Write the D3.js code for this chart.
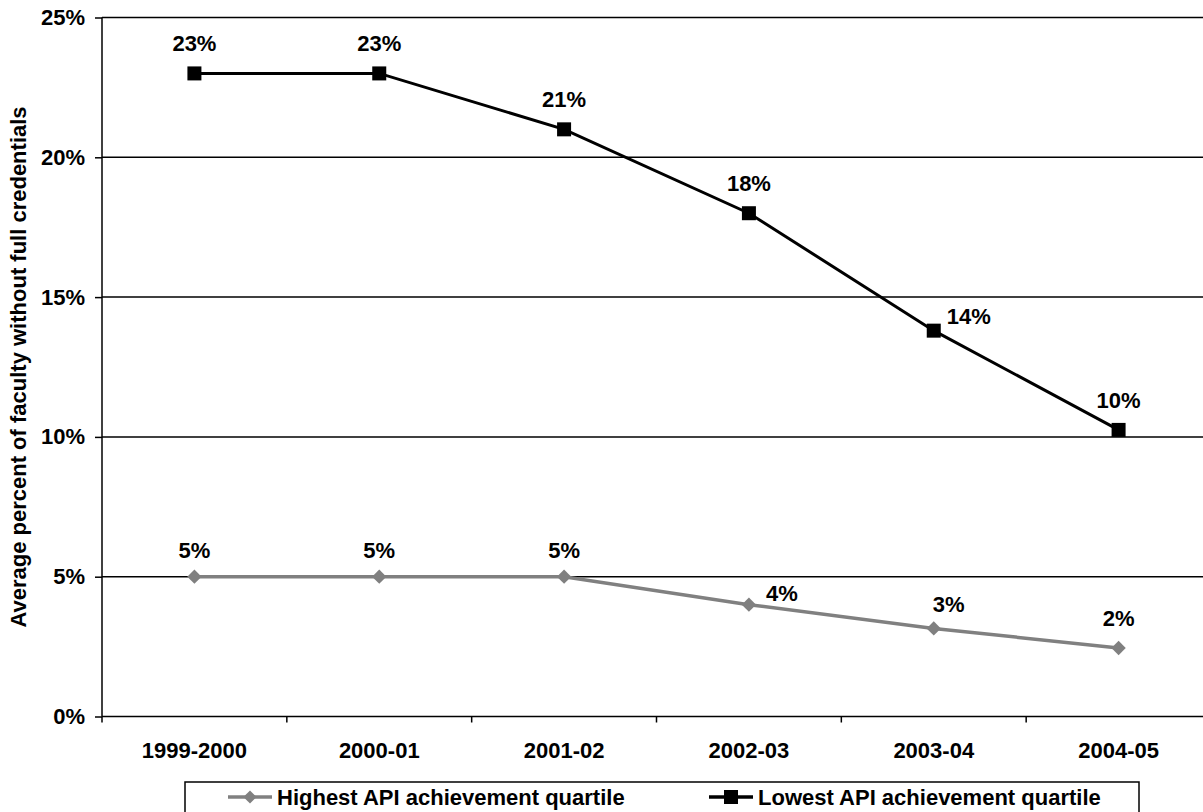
<!DOCTYPE html>
<html>
<head>
<meta charset="utf-8">
<script src="https://cdn.jsdelivr.net/npm/d3@7"></script>
<style>
  html, body { margin: 0; padding: 0; background: #fff; overflow: hidden; }
  svg { display: block; font-family: "Liberation Sans", Arial, sans-serif; font-weight: bold; }
</style>
</head>
<body>
<svg id="chart" width="1203" height="812"></svg>
<script>
// ---- Data ----
const categories = ["1999-2000", "2000-01", "2001-02", "2002-03", "2003-04", "2004-05"];
const highestValues = [5, 5, 5, 4.0, 3.15, 2.45];
const lowestValues = [23, 23, 21, 18, 13.8, 10.25];
const yTicks = [0, 5, 10, 15, 20, 25];
const seriesNames = ["Highest API achievement quartile", "Lowest API achievement quartile"];
const yTitle = "Average percent of faculty without full credentials";
// label offsets (styling): [dx, dy] relative to the point
const highestLabelOffsets = [[0, -19], [0, -19], [0, -19], [33, -4], [15, -16], [0, -22]];
const lowestLabelOffsets = [[0, -22], [0, -22], [0, -22], [0, -22], [35, -7], [0, -22]];

const svg = d3.select("#chart");
const pLeft = 102, pRight = 1211, pTop = 17.5, pBottom = 716.5;
const FS = 22;

const x = d3.scaleBand().domain(categories).range([pLeft, pRight]);
const y = d3.scaleLinear().domain([0, 25]).range([pBottom, pTop]);

// gridlines
svg.append("g").selectAll("line").data(yTicks.filter(d => d > 0)).join("line")
  .attr("x1", pLeft).attr("x2", pRight)
  .attr("y1", d => y(d)).attr("y2", d => y(d))
  .attr("stroke", "#000").attr("stroke-width", 1.5);

// y axis
const yAxis = d3.axisLeft(y).tickValues(yTicks).tickSize(7).tickPadding(10).tickFormat(d => d + "%");
const gy = svg.append("g").attr("transform", `translate(${pLeft},0)`).call(yAxis);
gy.select(".domain").attr("stroke", "#000").attr("stroke-width", 1.5).attr("d", `M0,${pTop}V${pBottom}`);
gy.selectAll(".tick line").attr("stroke", "#000").attr("stroke-width", 1.5);
gy.selectAll(".tick text").attr("font-size", FS).attr("font-weight", "bold")
  .attr("font-family", "Liberation Sans, Arial, sans-serif").attr("fill", "#000");

// x axis
const gx = svg.append("g").attr("transform", `translate(0,${pBottom})`);
gx.append("line").attr("x1", pLeft).attr("x2", pRight).attr("y1", 0).attr("y2", 0)
  .attr("stroke", "#000").attr("stroke-width", 1.5);
gx.selectAll("line.tk").data(categories).join("line").attr("class", "tk")
  .attr("x1", d => x(d)).attr("x2", d => x(d)).attr("y1", 0).attr("y2", 6)
  .attr("stroke", "#000").attr("stroke-width", 1.5);
gx.selectAll("text").data(categories).join("text")
  .attr("x", d => x(d) + x.bandwidth() / 2).attr("y", 41)
  .attr("text-anchor", "middle").attr("font-size", FS).attr("fill", "#000")
  .text(d => d);

// y title
svg.append("text")
  .attr("transform", `translate(26,${(pTop + pBottom) / 2}) rotate(-90)`)
  .attr("text-anchor", "middle").attr("font-size", 22).attr("fill", "#000")
  .text(yTitle);

const cx = d => x(d) + x.bandwidth() / 2;
const line = d3.line().x(d => cx(d.c)).y(d => y(d.v));

const hi = categories.map((c, i) => ({ c, v: highestValues[i], o: highestLabelOffsets[i] }));
const lo = categories.map((c, i) => ({ c, v: lowestValues[i], o: lowestLabelOffsets[i] }));

// Highest series
svg.append("path").datum(hi).attr("d", line).attr("fill", "none")
  .attr("stroke", "#808080").attr("stroke-width", 3.5);
svg.append("g").selectAll("path").data(hi).join("path")
  .attr("d", d3.symbol(d3.symbolDiamond2, 130))
  .attr("transform", d => `translate(${cx(d.c)},${y(d.v)})`)
  .attr("fill", "#808080");
svg.append("g").selectAll("text").data(hi).join("text")
  .attr("x", d => cx(d.c) + d.o[0]).attr("y", d => y(d.v) + d.o[1])
  .attr("text-anchor", "middle").attr("font-size", FS).attr("fill", "#000")
  .text(d => Math.round(d.v) + "%");

// Lowest series
svg.append("path").datum(lo).attr("d", line).attr("fill", "none")
  .attr("stroke", "#000").attr("stroke-width", 3);
svg.append("g").selectAll("rect").data(lo).join("rect")
  .attr("x", d => cx(d.c) - 7).attr("y", d => y(d.v) - 7)
  .attr("width", 14).attr("height", 14).attr("fill", "#000");
svg.append("g").selectAll("text").data(lo).join("text")
  .attr("x", d => cx(d.c) + d.o[0]).attr("y", d => y(d.v) + d.o[1])
  .attr("text-anchor", "middle").attr("font-size", FS).attr("fill", "#000")
  .text(d => Math.round(d.v) + "%");

// Legend
const lg = svg.append("g");
lg.append("rect").attr("x", 185).attr("y", 782).attr("width", 954).attr("height", 45)
  .attr("fill", "#fff").attr("stroke", "#000").attr("stroke-width", 1.5);
const legendItems = [
  { name: seriesNames[0], x0: 228, color: "#808080", shape: "diamond" },
  { name: seriesNames[1], x0: 709, color: "#000", shape: "square" }
];
legendItems.forEach(it => {
  const ly = 797;
  lg.append("line").attr("x1", it.x0).attr("x2", it.x0 + 44).attr("y1", ly).attr("y2", ly)
    .attr("stroke", it.color).attr("stroke-width", 3.5);
  if (it.shape === "diamond") {
    lg.append("path").attr("d", d3.symbol(d3.symbolDiamond2, 110))
      .attr("transform", `translate(${it.x0 + 22},${ly})`).attr("fill", it.color);
  } else {
    lg.append("rect").attr("x", it.x0 + 22 - 7).attr("y", ly - 7).attr("width", 14).attr("height", 14)
      .attr("fill", it.color);
  }
  lg.append("text").attr("x", it.x0 + 49).attr("y", 805).attr("font-size", FS).attr("fill", "#000")
    .text(it.name);
});
</script>
</body>
</html>
